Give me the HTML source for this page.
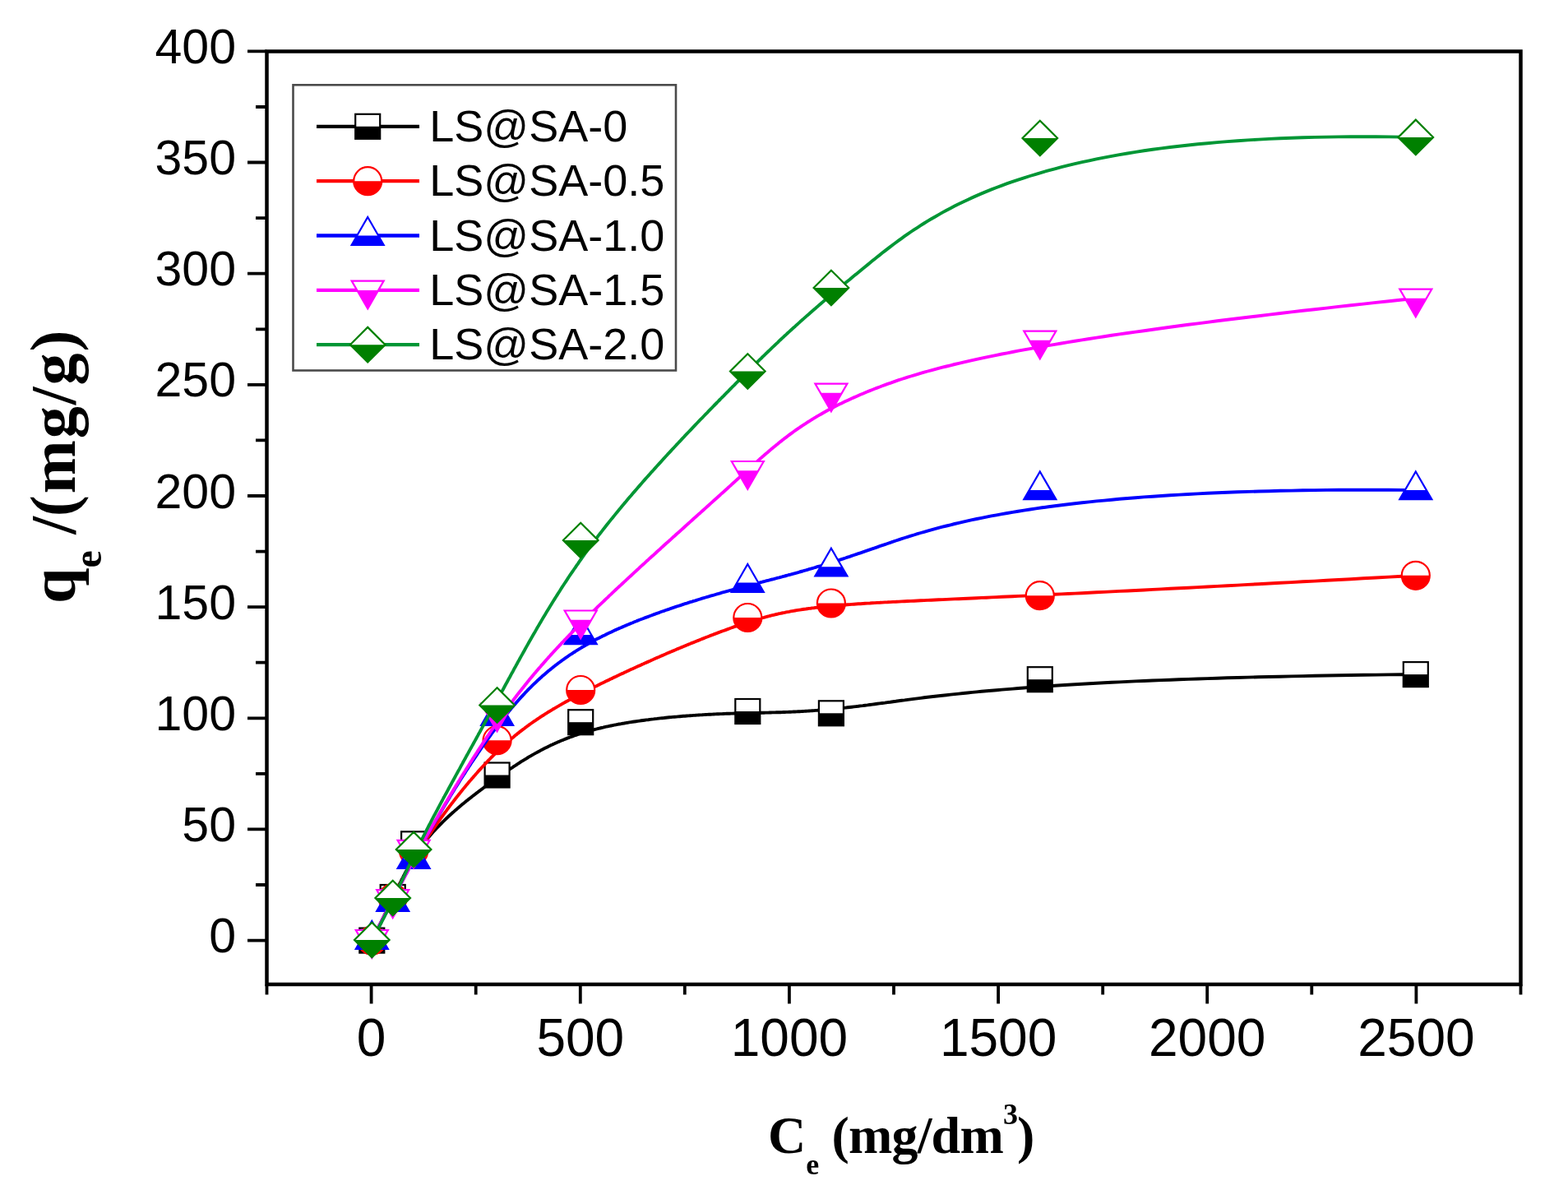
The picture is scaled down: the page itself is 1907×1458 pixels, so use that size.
<!DOCTYPE html>
<html><head><meta charset="utf-8"><title>qe vs Ce</title>
<style>html,body{margin:0;padding:0;background:#fff;}svg{display:block;}</style>
</head><body>
<svg width="1907" height="1458" viewBox="0 0 1907 1458">
<rect width="1907" height="1458" fill="#fff"/>
<polyline points="452.3,1143.6 453.2,1141.9 454.1,1140.2 455,1138.4 455.9,1136.8 456.7,1135.1 457.6,1133.4 458.4,1131.7 459.3,1130.1 460.1,1128.4 460.9,1126.7 461.8,1125.1 462.6,1123.5 463.4,1121.9 464.1,1120.3 464.9,1118.7 465.7,1117.1 466.5,1115.5 467.2,1113.9 468,1112.4 468.7,1110.8 469.5,1109.3 470.2,1107.8 470.9,1106.2 471.7,1104.7 472.4,1103.2 473.1,1101.7 473.8,1100.2 474.5,1098.7 475.2,1097.3 475.9,1095.8 476.6,1094.4 477.3,1092.9 478,1091.5 478.7,1090 479.3,1088.6 480,1087.2 480.7,1085.8 481.4,1084.4 482,1083 482.7,1081.6 483.4,1080.2 484.1,1078.8 484.7,1077.5 485.4,1076.1 486,1074.8 486.7,1073.4 487.4,1072.1 488,1070.8 488.7,1069.4 489.4,1068.1 490.1,1066.8 490.7,1065.5 491.4,1064.2 492.1,1062.9 492.7,1061.6 493.4,1060.3 494.1,1059.1 494.8,1057.8 495.5,1056.5 496.2,1055.3 496.9,1054 497.6,1052.8 498.3,1051.6 499,1050.3 499.7,1049.1 500.4,1047.9 501.1,1046.7 501.8,1045.5 502.6,1044.3 503.3,1043.1 504,1041.9 504.8,1040.7 505.5,1039.5 506.3,1038.3 507.1,1037.2 507.9,1036 508.6,1034.8 509.4,1033.7 510.2,1032.5 511,1031.4 511.9,1030.2 512.7,1029.1 513.5,1028 514.4,1026.8 515.2,1025.7 516.1,1024.6 516.9,1023.5 517.8,1022.4 518.7,1021.3 519.6,1020.2 520.5,1019.1 521.4,1017.9 522.3,1016.9 523.3,1015.8 524.2,1014.7 525.1,1013.6 526.1,1012.5 527,1011.5 528,1010.4 529,1009.3 530,1008.3 531,1007.2 532,1006.2 533,1005.1 534,1004.1 535,1003 536,1002 537,1001 538.1,999.9 539.1,998.9 540.2,997.9 541.2,996.9 542.3,995.8 543.4,994.8 544.4,993.8 545.5,992.8 546.6,991.8 547.7,990.8 548.8,989.8 549.9,988.8 551,987.8 552.1,986.9 553.2,985.9 554.3,984.9 555.5,983.9 556.6,982.9 557.7,982 558.9,981 560,980.1 561.1,979.1 562.3,978.1 563.4,977.2 564.6,976.2 565.8,975.3 566.9,974.3 568.1,973.4 569.3,972.5 570.4,971.5 571.6,970.6 572.8,969.7 574,968.7 575.2,967.8 576.4,966.9 577.6,966 578.8,965 580,964.1 581.2,963.2 582.3,962.3 583.6,961.4 584.8,960.5 586,959.6 587.2,958.7 588.4,957.8 589.6,956.9 590.8,956 592,955.1 593.2,954.2 594.5,953.3 595.7,952.4 596.9,951.6 598.1,950.7 599.3,949.8 600.6,948.9 601.8,948.1 603,947.2 604.2,946.3 605.5,945.5 606.7,944.6 607.9,943.7 609.1,942.9 610.3,942 611.6,941.2 612.8,940.3 614,939.5 615.2,938.6 616.5,937.8 617.7,936.9 618.9,936.1 620.2,935.2 621.4,934.4 622.6,933.6 623.9,932.8 625.1,931.9 626.4,931.1 627.6,930.3 628.9,929.5 630.1,928.7 631.4,927.8 632.6,927 633.9,926.2 635.2,925.4 636.5,924.6 637.8,923.8 639,923.1 640.3,922.3 641.6,921.5 642.9,920.7 644.2,919.9 645.5,919.2 646.9,918.4 648.2,917.6 649.5,916.9 650.9,916.1 652.2,915.4 653.5,914.7 654.9,913.9 656.3,913.2 657.7,912.4 659,911.7 660.4,911 661.8,910.3 663.2,909.6 664.6,908.9 666,908.2 667.4,907.5 668.9,906.8 670.3,906.1 671.8,905.4 673.2,904.7 674.7,904.1 676.2,903.4 677.7,902.8 679.2,902.1 680.7,901.5 682.2,900.8 683.7,900.2 685.3,899.6 686.8,898.9 688.4,898.3 690,897.7 691.5,897.1 693.1,896.5 694.8,895.9 696.4,895.3 698,894.7 699.7,894.2 701.3,893.6 703,893 704.6,892.5 706.3,891.9 708,891.4 709.8,890.9 711.5,890.3 713.3,889.8 715,889.3 716.8,888.8 718.6,888.3 720.4,887.8 722.2,887.3 724,886.8 725.9,886.4 727.7,885.9 729.6,885.5 731.5,885 733.4,884.6 735.3,884.1 737.2,883.7 739.2,883.3 741.1,882.9 743.1,882.5 745.1,882.1 747,881.7 749,881.3 751,880.9 753,880.5 755.1,880.2 757.1,879.8 759.1,879.5 761.2,879.1 763.2,878.8 765.3,878.4 767.4,878.1 769.4,877.8 771.5,877.5 773.6,877.2 775.7,876.9 777.8,876.6 779.9,876.3 782,876 784.1,875.7 786.2,875.4 788.4,875.2 790.5,874.9 792.6,874.6 794.8,874.4 796.9,874.1 799,873.9 801.2,873.6 803.3,873.4 805.4,873.2 807.5,873 809.7,872.7 811.8,872.5 814,872.3 816.1,872.1 818.2,871.9 820.4,871.7 822.5,871.6 824.6,871.4 826.8,871.2 828.9,871 831,870.8 833.1,870.7 835.2,870.5 837.3,870.4 839.4,870.2 841.5,870.1 843.6,869.9 845.7,869.8 847.8,869.6 849.8,869.5 851.9,869.4 854,869.3 856,869.1 858,869 860.1,868.9 862.1,868.8 864.1,868.7 866.1,868.6 868.1,868.5 870.1,868.4 872.1,868.3 874,868.2 876,868.1 877.9,868.1 879.9,868 881.8,867.9 883.7,867.8 885.6,867.8 887.4,867.7 889.3,867.6 891.1,867.6 893,867.5 894.8,867.5 896.6,867.4 898.4,867.4 900.2,867.3 902,867.3 903.7,867.2 905.4,867.2 907.2,867.1 908.9,867.1 910.7,867.1 912.4,867 914.1,867 915.8,866.9 917.4,866.9 919.1,866.9 920.8,866.8 922.5,866.8 924.2,866.8 925.9,866.7 927.5,866.7 929.2,866.7 930.9,866.6 932.5,866.6 934.2,866.6 935.9,866.5 937.5,866.5 939.2,866.4 940.9,866.4 942.6,866.4 944.3,866.3 946,866.3 947.6,866.2 949.4,866.2 951.1,866.1 952.8,866 954.5,866 956.3,865.9 958,865.9 959.8,865.8 961.5,865.7 963.3,865.6 965.1,865.5 967,865.5 968.8,865.4 970.6,865.3 972.5,865.2 974.3,865.1 976.2,865 978.1,864.9 980.1,864.7 982,864.6 984,864.5 985.9,864.4 987.9,864.2 989.9,864.1 992,863.9 994,863.8 996.2,863.6 998.3,863.4 1000.4,863.3 1002.6,863.1 1004.8,862.9 1007,862.7 1009.2,862.5 1011.5,862.3 1013.8,862.1 1016.1,861.8 1018.5,861.6 1020.9,861.3 1023.3,861.1 1025.7,860.8 1028.2,860.6 1030.7,860.3 1033.3,860 1035.9,859.7 1038.5,859.4 1041.2,859.1 1043.9,858.8 1046.6,858.4 1049.3,858.1 1052.1,857.7 1055,857.4 1057.9,857 1060.8,856.6 1063.8,856.2 1066.8,855.8 1069.9,855.4 1073,855 1076.2,854.6 1079.4,854.1 1082.7,853.7 1086.1,853.2 1089.5,852.8 1093,852.3 1096.6,851.8 1100.2,851.4 1103.9,850.9 1107.7,850.4 1111.6,849.9 1115.7,849.4 1119.7,848.9 1123.9,848.3 1128.1,847.8 1132.5,847.3 1137,846.8 1141.5,846.2 1146.2,845.7 1151.1,845.2 1156,844.6 1161,844.1 1166.1,843.6 1171.4,843 1176.8,842.5 1182.3,841.9 1187.9,841.4 1193.7,840.8 1199.7,840.3 1205.8,839.7 1212,839.2 1218.4,838.6 1224.9,838.1 1231.5,837.6 1238.3,837 1245.3,836.5 1252.6,835.9 1259.9,835.4 1267.3,834.9 1275,834.4 1282.8,833.8 1290.8,833.3 1298.9,832.8 1307.3,832.3 1316,831.8 1324.7,831.3 1333.6,830.8 1342.7,830.3 1352,829.8 1361.5,829.4 1371.2,828.9 1381.1,828.4 1391.3,828 1401.8,827.5 1412.3,827.1 1423.1,826.7 1434.1,826.3 1445.3,825.9 1456.7,825.5 1468.4,825.1 1480.3,824.7 1492.6,824.3 1505,824 1517.6,823.6 1530.5,823.3 1543.6,823 1557,822.7 1570.6,822.4 1584.5,822.1 1598.8,821.8 1613.2,821.5 1627.9,821.3 1642.8,821 1658,820.8 1673.5,820.6 1689.2,820.4 1705.2,820.3 1721.8,820.1" fill="none" stroke="#000000" stroke-width="3.9" stroke-linejoin="round"/>
<rect x="437.3" y="1128.6" width="30" height="30" fill="#fff" stroke="#000000" stroke-width="2.2"/><rect x="437.3" y="1143.6" width="30" height="15" fill="#000000"/>
<rect x="462.7" y="1076" width="30" height="30" fill="#fff" stroke="#000000" stroke-width="2.2"/><rect x="462.7" y="1091" width="30" height="15" fill="#000000"/>
<rect x="488.1" y="1011.3" width="30" height="30" fill="#fff" stroke="#000000" stroke-width="2.2"/><rect x="488.1" y="1026.3" width="30" height="15" fill="#000000"/>
<rect x="589.6" y="927.5" width="30" height="30" fill="#fff" stroke="#000000" stroke-width="2.2"/><rect x="589.6" y="942.5" width="30" height="15" fill="#000000"/>
<rect x="691.2" y="863.2" width="30" height="30" fill="#fff" stroke="#000000" stroke-width="2.2"/><rect x="691.2" y="878.2" width="30" height="15" fill="#000000"/>
<rect x="894.3" y="850" width="30" height="30" fill="#fff" stroke="#000000" stroke-width="2.2"/><rect x="894.3" y="865" width="30" height="15" fill="#000000"/>
<rect x="995.9" y="852.3" width="30" height="30" fill="#fff" stroke="#000000" stroke-width="2.2"/><rect x="995.9" y="867.3" width="30" height="15" fill="#000000"/>
<rect x="1249.8" y="811.2" width="30" height="30" fill="#fff" stroke="#000000" stroke-width="2.2"/><rect x="1249.8" y="826.2" width="30" height="15" fill="#000000"/>
<rect x="1706.8" y="805.1" width="30" height="30" fill="#fff" stroke="#000000" stroke-width="2.2"/><rect x="1706.8" y="820.1" width="30" height="15" fill="#000000"/>
<polyline points="452.3,1143.6 453.2,1141.8 454.1,1140 455,1138.2 455.9,1136.5 456.7,1134.8 457.6,1133 458.4,1131.3 459.3,1129.7 460.1,1128 460.9,1126.3 461.8,1124.7 462.6,1123.1 463.4,1121.5 464.1,1119.9 464.9,1118.3 465.7,1116.8 466.5,1115.2 467.2,1113.7 468,1112.1 468.7,1110.6 469.5,1109.1 470.2,1107.7 470.9,1106.2 471.7,1104.7 472.4,1103.3 473.1,1101.8 473.8,1100.4 474.5,1099 475.2,1097.6 475.9,1096.2 476.6,1094.8 477.3,1093.5 478,1092.1 478.7,1090.7 479.3,1089.4 480,1088 480.7,1086.7 481.4,1085.4 482,1084.1 482.7,1082.8 483.4,1081.5 484.1,1080.1 484.7,1078.9 485.4,1077.6 486,1076.3 486.7,1075 487.4,1073.8 488,1072.5 488.7,1071.2 489.4,1069.9 490.1,1068.7 490.7,1067.4 491.4,1066.2 492.1,1064.9 492.7,1063.7 493.4,1062.5 494.1,1061.2 494.8,1060 495.5,1058.7 496.2,1057.5 496.9,1056.2 497.6,1055 498.3,1053.8 499,1052.5 499.7,1051.3 500.4,1050 501.1,1048.8 501.8,1047.5 502.6,1046.3 503.3,1045 504,1043.8 504.8,1042.5 505.5,1041.3 506.3,1040 507.1,1038.7 507.9,1037.4 508.6,1036.2 509.4,1034.9 510.2,1033.6 511,1032.3 511.9,1031 512.7,1029.7 513.5,1028.4 514.4,1027 515.2,1025.7 516.1,1024.4 516.9,1023 517.8,1021.7 518.7,1020.3 519.6,1019 520.5,1017.6 521.4,1016.2 522.3,1014.9 523.3,1013.5 524.2,1012.1 525.1,1010.7 526.1,1009.3 527,1007.9 528,1006.5 529,1005.1 530,1003.7 531,1002.3 532,1000.9 533,999.4 534,998 535,996.6 536,995.2 537,993.7 538.1,992.3 539.1,990.9 540.2,989.4 541.2,988 542.3,986.6 543.4,985.1 544.4,983.7 545.5,982.3 546.6,980.8 547.7,979.4 548.8,977.9 549.9,976.5 551,975.1 552.1,973.6 553.2,972.2 554.3,970.8 555.5,969.3 556.6,967.9 557.7,966.5 558.9,965 560,963.6 561.1,962.2 562.3,960.8 563.4,959.4 564.6,957.9 565.8,956.5 566.9,955.1 568.1,953.7 569.3,952.3 570.4,950.9 571.6,949.5 572.8,948.2 574,946.8 575.2,945.4 576.4,944 577.6,942.7 578.8,941.3 580,940 581.2,938.6 582.3,937.3 583.6,935.9 584.8,934.6 586,933.3 587.2,932 588.4,930.7 589.6,929.4 590.8,928.1 592,926.8 593.2,925.5 594.5,924.3 595.7,923 596.9,921.7 598.1,920.5 599.3,919.3 600.6,918.1 601.8,916.9 603,915.7 604.2,914.5 605.5,913.3 606.7,912.1 607.9,910.9 609.1,909.8 610.3,908.7 611.6,907.5 612.8,906.4 614,905.3 615.2,904.2 616.5,903.1 617.7,902 618.9,900.9 620.2,899.9 621.4,898.8 622.6,897.8 623.9,896.7 625.1,895.7 626.4,894.6 627.6,893.6 628.9,892.6 630.1,891.6 631.4,890.6 632.6,889.6 633.9,888.6 635.2,887.6 636.5,886.7 637.8,885.7 639,884.7 640.3,883.8 641.6,882.8 642.9,881.9 644.2,880.9 645.5,880 646.9,879 648.2,878.1 649.5,877.2 650.9,876.3 652.2,875.4 653.5,874.5 654.9,873.6 656.3,872.7 657.7,871.7 659,870.8 660.4,870 661.8,869.1 663.2,868.2 664.6,867.3 666,866.4 667.4,865.5 668.9,864.7 670.3,863.8 671.8,862.9 673.2,862 674.7,861.2 676.2,860.3 677.7,859.4 679.2,858.6 680.7,857.7 682.2,856.8 683.7,855.9 685.3,855.1 686.8,854.2 688.4,853.3 690,852.5 691.5,851.6 693.1,850.7 694.8,849.9 696.4,849 698,848.1 699.7,847.2 701.3,846.4 703,845.5 704.6,844.6 706.3,843.7 708,842.9 709.8,842 711.5,841.1 713.3,840.2 715,839.3 716.8,838.4 718.6,837.5 720.4,836.6 722.2,835.7 724,834.8 725.9,833.9 727.7,833 729.6,832 731.5,831.1 733.4,830.2 735.3,829.3 737.2,828.3 739.2,827.4 741.1,826.4 743.1,825.5 745.1,824.6 747,823.6 749,822.7 751,821.7 753,820.8 755.1,819.8 757.1,818.9 759.1,817.9 761.2,817 763.2,816 765.3,815.1 767.4,814.1 769.4,813.2 771.5,812.2 773.6,811.3 775.7,810.3 777.8,809.4 779.9,808.4 782,807.5 784.1,806.5 786.2,805.6 788.4,804.6 790.5,803.7 792.6,802.7 794.8,801.8 796.9,800.8 799,799.9 801.2,799 803.3,798 805.4,797.1 807.5,796.2 809.7,795.3 811.8,794.3 814,793.4 816.1,792.5 818.2,791.6 820.4,790.7 822.5,789.8 824.6,788.9 826.8,788 828.9,787.1 831,786.2 833.1,785.4 835.2,784.5 837.3,783.6 839.4,782.8 841.5,781.9 843.6,781.1 845.7,780.2 847.8,779.4 849.8,778.6 851.9,777.7 854,776.9 856,776.1 858,775.3 860.1,774.5 862.1,773.7 864.1,772.9 866.1,772.2 868.1,771.4 870.1,770.6 872.1,769.9 874,769.1 876,768.4 877.9,767.7 879.9,767 881.8,766.3 883.7,765.6 885.6,764.9 887.4,764.2 889.3,763.5 891.1,762.9 893,762.2 894.8,761.6 896.6,761 898.4,760.3 900.2,759.7 902,759.1 903.7,758.5 905.4,758 907.2,757.4 908.9,756.8 910.7,756.3 912.4,755.7 914.1,755.2 915.8,754.7 917.4,754.2 919.1,753.7 920.8,753.2 922.5,752.7 924.2,752.2 925.9,751.7 927.5,751.2 929.2,750.8 930.9,750.3 932.5,749.9 934.2,749.5 935.9,749 937.5,748.6 939.2,748.2 940.9,747.8 942.6,747.4 944.3,747 946,746.6 947.6,746.2 949.4,745.9 951.1,745.5 952.8,745.1 954.5,744.8 956.3,744.4 958,744.1 959.8,743.8 961.5,743.4 963.3,743.1 965.1,742.8 967,742.5 968.8,742.2 970.6,741.9 972.5,741.6 974.3,741.3 976.2,741 978.1,740.7 980.1,740.5 982,740.2 984,739.9 985.9,739.7 987.9,739.4 989.9,739.2 992,738.9 994,738.7 996.2,738.4 998.3,738.2 1000.4,738 1002.6,737.7 1004.8,737.5 1007,737.3 1009.2,737.1 1011.5,736.9 1013.8,736.7 1016.1,736.5 1018.5,736.3 1020.9,736 1023.3,735.9 1025.7,735.7 1028.2,735.5 1030.7,735.3 1033.3,735.1 1035.9,734.9 1038.5,734.7 1041.2,734.5 1043.9,734.3 1046.6,734.2 1049.3,734 1052.1,733.8 1055,733.6 1057.9,733.5 1060.8,733.3 1063.8,733.1 1066.8,732.9 1069.9,732.8 1073,732.6 1076.2,732.4 1079.4,732.3 1082.7,732.1 1086.1,731.9 1089.5,731.8 1093,731.6 1096.6,731.4 1100.2,731.2 1103.9,731 1107.7,730.9 1111.6,730.7 1115.7,730.5 1119.7,730.3 1123.9,730.1 1128.1,729.9 1132.5,729.7 1137,729.5 1141.5,729.3 1146.2,729.1 1151.1,728.9 1156,728.6 1161,728.4 1166.1,728.2 1171.4,728 1176.8,727.7 1182.3,727.5 1187.9,727.2 1193.7,726.9 1199.7,726.7 1205.8,726.4 1212,726.1 1218.4,725.8 1224.9,725.5 1231.5,725.2 1238.3,724.9 1245.3,724.6 1252.6,724.2 1259.9,723.9 1267.3,723.5 1275,723.2 1282.8,722.8 1290.8,722.4 1298.9,722 1307.3,721.6 1316,721.2 1324.7,720.8 1333.6,720.3 1342.7,719.9 1352,719.4 1361.5,718.9 1371.2,718.5 1381.1,718 1391.3,717.5 1401.8,716.9 1412.3,716.4 1423.1,715.8 1434.1,715.3 1445.3,714.7 1456.7,714.1 1468.4,713.5 1480.3,712.9 1492.6,712.2 1505,711.6 1517.6,710.9 1530.5,710.2 1543.6,709.5 1557,708.8 1570.6,708.1 1584.5,707.3 1598.8,706.6 1613.2,705.8 1627.9,705 1642.8,704.2 1658,703.3 1673.5,702.5 1689.2,701.6 1705.2,700.7 1721.8,699.8" fill="none" stroke="#ff0000" stroke-width="3.9" stroke-linejoin="round"/>
<circle cx="452.3" cy="1143.6" r="17" fill="#fff" stroke="#ff0000" stroke-width="2.2"/><path d="M435.3 1143.6A17 17 0 0 0 469.3 1143.6Z" fill="#ff0000"/>
<circle cx="477.7" cy="1092" r="17" fill="#fff" stroke="#ff0000" stroke-width="2.2"/><path d="M460.7 1092A17 17 0 0 0 494.7 1092Z" fill="#ff0000"/>
<circle cx="503.1" cy="1035" r="17" fill="#fff" stroke="#ff0000" stroke-width="2.2"/><path d="M486.1 1035A17 17 0 0 0 520.1 1035Z" fill="#ff0000"/>
<circle cx="604.6" cy="900.2" r="17" fill="#fff" stroke="#ff0000" stroke-width="2.2"/><path d="M587.6 900.2A17 17 0 0 0 621.6 900.2Z" fill="#ff0000"/>
<circle cx="706.2" cy="839" r="17" fill="#fff" stroke="#ff0000" stroke-width="2.2"/><path d="M689.2 839A17 17 0 0 0 723.2 839Z" fill="#ff0000"/>
<circle cx="909.3" cy="751" r="17" fill="#fff" stroke="#ff0000" stroke-width="2.2"/><path d="M892.3 751A17 17 0 0 0 926.3 751Z" fill="#ff0000"/>
<circle cx="1010.9" cy="733.5" r="17" fill="#fff" stroke="#ff0000" stroke-width="2.2"/><path d="M993.9 733.5A17 17 0 0 0 1027.9 733.5Z" fill="#ff0000"/>
<circle cx="1264.8" cy="724.2" r="17" fill="#fff" stroke="#ff0000" stroke-width="2.2"/><path d="M1247.8 724.2A17 17 0 0 0 1281.8 724.2Z" fill="#ff0000"/>
<circle cx="1721.8" cy="699.8" r="17" fill="#fff" stroke="#ff0000" stroke-width="2.2"/><path d="M1704.8 699.8A17 17 0 0 0 1738.8 699.8Z" fill="#ff0000"/>
<polyline points="452.3,1142.5 453.2,1140.8 454.1,1139.1 455,1137.4 455.9,1135.7 456.7,1134.1 457.6,1132.4 458.4,1130.8 459.3,1129.2 460.1,1127.6 460.9,1126 461.8,1124.5 462.6,1122.9 463.4,1121.4 464.1,1119.9 464.9,1118.4 465.7,1116.9 466.5,1115.4 467.2,1113.9 468,1112.5 468.7,1111 469.5,1109.6 470.2,1108.2 470.9,1106.8 471.7,1105.4 472.4,1104 473.1,1102.6 473.8,1101.2 474.5,1099.9 475.2,1098.5 475.9,1097.2 476.6,1095.8 477.3,1094.5 478,1093.2 478.7,1091.8 479.3,1090.5 480,1089.2 480.7,1087.9 481.4,1086.6 482,1085.3 482.7,1084 483.4,1082.7 484.1,1081.4 484.7,1080.2 485.4,1078.9 486,1077.6 486.7,1076.3 487.4,1075.1 488,1073.8 488.7,1072.5 489.4,1071.2 490.1,1069.9 490.7,1068.7 491.4,1067.4 492.1,1066.1 492.7,1064.8 493.4,1063.6 494.1,1062.3 494.8,1061 495.5,1059.7 496.2,1058.4 496.9,1057.1 497.6,1055.8 498.3,1054.5 499,1053.2 499.7,1051.8 500.4,1050.5 501.1,1049.2 501.8,1047.8 502.6,1046.5 503.3,1045.1 504,1043.8 504.8,1042.4 505.5,1041 506.3,1039.6 507.1,1038.2 507.9,1036.8 508.6,1035.4 509.4,1034 510.2,1032.5 511,1031.1 511.9,1029.6 512.7,1028.1 513.5,1026.6 514.4,1025.1 515.2,1023.6 516.1,1022.1 516.9,1020.5 517.8,1019 518.7,1017.4 519.6,1015.8 520.5,1014.2 521.4,1012.6 522.3,1011 523.3,1009.4 524.2,1007.8 525.1,1006.1 526.1,1004.5 527,1002.8 528,1001.2 529,999.5 530,997.8 531,996.1 532,994.4 533,992.7 534,991 535,989.2 536,987.5 537,985.8 538.1,984 539.1,982.3 540.2,980.5 541.2,978.8 542.3,977 543.4,975.2 544.4,973.5 545.5,971.7 546.6,969.9 547.7,968.1 548.8,966.3 549.9,964.5 551,962.7 552.1,960.9 553.2,959.1 554.3,957.3 555.5,955.5 556.6,953.7 557.7,951.9 558.9,950.1 560,948.3 561.1,946.5 562.3,944.7 563.4,942.9 564.6,941.1 565.8,939.3 566.9,937.5 568.1,935.7 569.3,933.9 570.4,932.1 571.6,930.3 572.8,928.5 574,926.7 575.2,924.9 576.4,923.1 577.6,921.3 578.8,919.6 580,917.8 581.2,916 582.3,914.3 583.6,912.5 584.8,910.7 586,909 587.2,907.3 588.4,905.5 589.6,903.8 590.8,902.1 592,900.4 593.2,898.7 594.5,897 595.7,895.3 596.9,893.6 598.1,891.9 599.3,890.3 600.6,888.6 601.8,887 603,885.3 604.2,883.7 605.5,882.1 606.7,880.5 607.9,878.9 609.1,877.3 610.3,875.7 611.6,874.2 612.8,872.6 614,871.1 615.2,869.5 616.5,868 617.7,866.5 618.9,865 620.2,863.5 621.4,862 622.6,860.6 623.9,859.1 625.1,857.6 626.4,856.2 627.6,854.7 628.9,853.3 630.1,851.9 631.4,850.5 632.6,849.1 633.9,847.7 635.2,846.3 636.5,844.9 637.8,843.6 639,842.2 640.3,840.9 641.6,839.5 642.9,838.2 644.2,836.9 645.5,835.6 646.9,834.2 648.2,832.9 649.5,831.6 650.9,830.4 652.2,829.1 653.5,827.8 654.9,826.6 656.3,825.3 657.7,824.1 659,822.8 660.4,821.6 661.8,820.4 663.2,819.2 664.6,818 666,816.8 667.4,815.6 668.9,814.4 670.3,813.2 671.8,812.1 673.2,810.9 674.7,809.8 676.2,808.6 677.7,807.5 679.2,806.3 680.7,805.2 682.2,804.1 683.7,803 685.3,801.9 686.8,800.8 688.4,799.7 690,798.6 691.5,797.5 693.1,796.4 694.8,795.4 696.4,794.3 698,793.2 699.7,792.2 701.3,791.2 703,790.1 704.6,789.1 706.3,788.1 708,787 709.8,786 711.5,785 713.3,784 715,783 716.8,782 718.6,781 720.4,780.1 722.2,779.1 724,778.1 725.9,777.1 727.7,776.2 729.6,775.2 731.5,774.3 733.4,773.3 735.3,772.4 737.2,771.4 739.2,770.5 741.1,769.6 743.1,768.7 745.1,767.7 747,766.8 749,765.9 751,765 753,764.1 755.1,763.3 757.1,762.4 759.1,761.5 761.2,760.6 763.2,759.7 765.3,758.9 767.4,758 769.4,757.2 771.5,756.3 773.6,755.5 775.7,754.6 777.8,753.8 779.9,753 782,752.2 784.1,751.4 786.2,750.6 788.4,749.8 790.5,749 792.6,748.2 794.8,747.4 796.9,746.6 799,745.8 801.2,745.1 803.3,744.3 805.4,743.5 807.5,742.8 809.7,742 811.8,741.3 814,740.6 816.1,739.8 818.2,739.1 820.4,738.4 822.5,737.7 824.6,737 826.8,736.3 828.9,735.6 831,734.9 833.1,734.2 835.2,733.6 837.3,732.9 839.4,732.2 841.5,731.6 843.6,730.9 845.7,730.3 847.8,729.6 849.8,729 851.9,728.4 854,727.7 856,727.1 858,726.5 860.1,725.9 862.1,725.3 864.1,724.7 866.1,724.1 868.1,723.6 870.1,723 872.1,722.4 874,721.9 876,721.3 877.9,720.7 879.9,720.2 881.8,719.7 883.7,719.1 885.6,718.6 887.4,718.1 889.3,717.6 891.1,717.1 893,716.6 894.8,716.1 896.6,715.6 898.4,715.1 900.2,714.6 902,714.2 903.7,713.7 905.4,713.3 907.2,712.8 908.9,712.3 910.7,711.9 912.4,711.4 914.1,711 915.8,710.6 917.4,710.1 919.1,709.7 920.8,709.3 922.5,708.8 924.2,708.4 925.9,708 927.5,707.5 929.2,707.1 930.9,706.7 932.5,706.2 934.2,705.8 935.9,705.4 937.5,704.9 939.2,704.5 940.9,704.1 942.6,703.6 944.3,703.2 946,702.7 947.6,702.3 949.4,701.8 951.1,701.4 952.8,700.9 954.5,700.5 956.3,700 958,699.5 959.8,699 961.5,698.6 963.3,698.1 965.1,697.6 967,697.1 968.8,696.6 970.6,696.1 972.5,695.5 974.3,695 976.2,694.5 978.1,693.9 980.1,693.4 982,692.8 984,692.2 985.9,691.7 987.9,691.1 989.9,690.5 992,689.9 994,689.2 996.2,688.6 998.3,688 1000.4,687.3 1002.6,686.6 1004.8,686 1007,685.3 1009.2,684.6 1011.5,683.9 1013.8,683.1 1016.1,682.4 1018.5,681.6 1020.9,680.9 1023.3,680.1 1025.7,679.3 1028.2,678.5 1030.7,677.6 1033.3,676.8 1035.9,675.9 1038.5,675 1041.2,674.1 1043.9,673.2 1046.6,672.3 1049.3,671.4 1052.1,670.4 1055,669.4 1057.9,668.4 1060.8,667.4 1063.8,666.4 1066.8,665.3 1069.9,664.2 1073,663.2 1076.2,662.1 1079.4,661 1082.7,659.8 1086.1,658.7 1089.5,657.5 1093,656.4 1096.6,655.2 1100.2,654 1103.9,652.9 1107.7,651.7 1111.6,650.5 1115.7,649.2 1119.7,648 1123.9,646.8 1128.1,645.6 1132.5,644.4 1137,643.2 1141.5,641.9 1146.2,640.7 1151.1,639.5 1156,638.3 1161,637 1166.1,635.8 1171.4,634.6 1176.8,633.4 1182.3,632.2 1187.9,631 1193.7,629.8 1199.7,628.6 1205.8,627.4 1212,626.3 1218.4,625.1 1224.9,624 1231.5,622.8 1238.3,621.7 1245.3,620.6 1252.6,619.5 1259.9,618.4 1267.3,617.3 1275,616.3 1282.8,615.3 1290.8,614.2 1298.9,613.2 1307.3,612.3 1316,611.3 1324.7,610.4 1333.6,609.4 1342.7,608.6 1352,607.7 1361.5,606.8 1371.2,606 1381.1,605.2 1391.3,604.4 1401.8,603.7 1412.3,603 1423.1,602.3 1434.1,601.6 1445.3,601 1456.7,600.4 1468.4,599.8 1480.3,599.3 1492.6,598.8 1505,598.3 1517.6,597.9 1530.5,597.5 1543.6,597.2 1557,596.8 1570.6,596.6 1584.5,596.3 1598.8,596.1 1613.2,595.9 1627.9,595.8 1642.8,595.7 1658,595.7 1673.5,595.7 1689.2,595.8 1705.2,595.9 1721.8,596" fill="none" stroke="#0000ff" stroke-width="3.9" stroke-linejoin="round"/>
<path d="M452.3 1120L471.8 1153.8L432.8 1153.8Z" fill="#fff" stroke="#0000ff" stroke-width="2.2"/><path d="M439.3 1142.5L465.3 1142.5L471.8 1153.8L432.8 1153.8Z" fill="#0000ff"/>
<path d="M477.7 1074.1L497.2 1107.8L458.2 1107.8Z" fill="#fff" stroke="#0000ff" stroke-width="2.2"/><path d="M464.7 1096.6L490.7 1096.6L497.2 1107.8L458.2 1107.8Z" fill="#0000ff"/>
<path d="M503.1 1022.3L522.6 1056L483.6 1056Z" fill="#fff" stroke="#0000ff" stroke-width="2.2"/><path d="M490.1 1044.8L516.1 1044.8L522.6 1056L483.6 1056Z" fill="#0000ff"/>
<path d="M604.6 848.3L624.1 882L585.2 882Z" fill="#fff" stroke="#0000ff" stroke-width="2.2"/><path d="M591.6 870.8L617.6 870.8L624.1 882L585.2 882Z" fill="#0000ff"/>
<path d="M706.2 749.5L725.7 783.2L686.7 783.2Z" fill="#fff" stroke="#0000ff" stroke-width="2.2"/><path d="M693.2 772L719.2 772L725.7 783.2L686.7 783.2Z" fill="#0000ff"/>
<path d="M909.3 686L928.8 719.8L889.8 719.8Z" fill="#fff" stroke="#0000ff" stroke-width="2.2"/><path d="M896.3 708.5L922.3 708.5L928.8 719.8L889.8 719.8Z" fill="#0000ff"/>
<path d="M1010.9 666.8L1030.4 700.5L991.4 700.5Z" fill="#fff" stroke="#0000ff" stroke-width="2.2"/><path d="M997.9 689.3L1023.9 689.3L1030.4 700.5L991.4 700.5Z" fill="#0000ff"/>
<path d="M1264.8 573.5L1284.3 607.2L1245.3 607.2Z" fill="#fff" stroke="#0000ff" stroke-width="2.2"/><path d="M1251.8 596L1277.8 596L1284.3 607.2L1245.3 607.2Z" fill="#0000ff"/>
<path d="M1721.8 573.5L1741.3 607.2L1702.3 607.2Z" fill="#fff" stroke="#0000ff" stroke-width="2.2"/><path d="M1708.8 596L1734.8 596L1741.3 607.2L1702.3 607.2Z" fill="#0000ff"/>
<polyline points="452.3,1142.3 453.2,1140.6 454.1,1138.9 455,1137.3 455.9,1135.6 456.7,1134 457.6,1132.4 458.4,1130.8 459.3,1129.2 460.1,1127.6 460.9,1126 461.8,1124.5 462.6,1123 463.4,1121.4 464.1,1119.9 464.9,1118.5 465.7,1117 466.5,1115.5 467.2,1114 468,1112.6 468.7,1111.2 469.5,1109.8 470.2,1108.3 470.9,1106.9 471.7,1105.6 472.4,1104.2 473.1,1102.8 473.8,1101.4 474.5,1100.1 475.2,1098.7 475.9,1097.4 476.6,1096 477.3,1094.7 478,1093.4 478.7,1092 479.3,1090.7 480,1089.4 480.7,1088.1 481.4,1086.8 482,1085.5 482.7,1084.2 483.4,1082.9 484.1,1081.6 484.7,1080.4 485.4,1079.1 486,1077.8 486.7,1076.5 487.4,1075.2 488,1073.9 488.7,1072.7 489.4,1071.4 490.1,1070.1 490.7,1068.8 491.4,1067.5 492.1,1066.2 492.7,1065 493.4,1063.7 494.1,1062.4 494.8,1061.1 495.5,1059.7 496.2,1058.4 496.9,1057.1 497.6,1055.8 498.3,1054.5 499,1053.2 499.7,1051.8 500.4,1050.5 501.1,1049.1 501.8,1047.8 502.6,1046.4 503.3,1045.1 504,1043.7 504.8,1042.3 505.5,1040.9 506.3,1039.5 507.1,1038.1 507.9,1036.6 508.6,1035.2 509.4,1033.8 510.2,1032.3 511,1030.8 511.9,1029.3 512.7,1027.9 513.5,1026.3 514.4,1024.8 515.2,1023.3 516.1,1021.7 516.9,1020.2 517.8,1018.6 518.7,1017 519.6,1015.4 520.5,1013.8 521.4,1012.2 522.3,1010.5 523.3,1008.9 524.2,1007.3 525.1,1005.6 526.1,1003.9 527,1002.3 528,1000.6 529,998.8 530,997.1 531,995.4 532,993.7 533,992 534,990.2 535,988.5 536,986.7 537,985 538.1,983.2 539.1,981.4 540.2,979.6 541.2,977.8 542.3,976 543.4,974.2 544.4,972.4 545.5,970.6 546.6,968.7 547.7,966.9 548.8,965.1 549.9,963.3 551,961.4 552.1,959.6 553.2,957.8 554.3,955.9 555.5,954 556.6,952.2 557.7,950.3 558.9,948.5 560,946.6 561.1,944.8 562.3,942.9 563.4,941 564.6,939.2 565.8,937.3 566.9,935.4 568.1,933.6 569.3,931.7 570.4,929.9 571.6,928 572.8,926.1 574,924.3 575.2,922.4 576.4,920.5 577.6,918.7 578.8,916.8 580,915 581.2,913.1 582.3,911.3 583.6,909.5 584.8,907.6 586,905.8 587.2,903.9 588.4,902.1 589.6,900.3 590.8,898.5 592,896.7 593.2,894.9 594.5,893.1 595.7,891.2 596.9,889.5 598.1,887.7 599.3,885.9 600.6,884.1 601.8,882.4 603,880.6 604.2,878.9 605.5,877.1 606.7,875.4 607.9,873.7 609.1,872 610.3,870.3 611.6,868.6 612.8,866.9 614,865.2 615.2,863.5 616.5,861.8 617.7,860.1 618.9,858.5 620.2,856.8 621.4,855.2 622.6,853.5 623.9,851.9 625.1,850.2 626.4,848.6 627.6,847 628.9,845.3 630.1,843.7 631.4,842.1 632.6,840.5 633.9,838.9 635.2,837.3 636.5,835.7 637.8,834.1 639,832.5 640.3,830.9 641.6,829.3 642.9,827.7 644.2,826.1 645.5,824.5 646.9,822.9 648.2,821.3 649.5,819.7 650.9,818.2 652.2,816.6 653.5,815 654.9,813.4 656.3,811.8 657.7,810.2 659,808.6 660.4,807.1 661.8,805.5 663.2,803.9 664.6,802.3 666,800.7 667.4,799.1 668.9,797.5 670.3,795.9 671.8,794.3 673.2,792.7 674.7,791.1 676.2,789.5 677.7,787.9 679.2,786.3 680.7,784.7 682.2,783.1 683.7,781.4 685.3,779.8 686.8,778.2 688.4,776.6 690,774.9 691.5,773.3 693.1,771.6 694.8,770 696.4,768.3 698,766.6 699.7,765 701.3,763.3 703,761.6 704.6,759.9 706.3,758.2 708,756.5 709.8,754.8 711.5,753.1 713.3,751.3 715,749.6 716.8,747.9 718.6,746.1 720.4,744.4 722.2,742.6 724,740.8 725.9,739 727.7,737.2 729.6,735.4 731.5,733.6 733.4,731.8 735.3,730 737.2,728.2 739.2,726.3 741.1,724.4 743.1,722.6 745.1,720.7 747,718.9 749,717 751,715.1 753,713.3 755.1,711.4 757.1,709.5 759.1,707.6 761.2,705.7 763.2,703.8 765.3,701.9 767.4,700 769.4,698.1 771.5,696.1 773.6,694.2 775.7,692.3 777.8,690.3 779.9,688.4 782,686.5 784.1,684.6 786.2,682.6 788.4,680.7 790.5,678.7 792.6,676.8 794.8,674.9 796.9,673 799,671 801.2,669.1 803.3,667.2 805.4,665.2 807.5,663.3 809.7,661.3 811.8,659.4 814,657.5 816.1,655.6 818.2,653.6 820.4,651.7 822.5,649.8 824.6,647.9 826.8,646 828.9,644.1 831,642.2 833.1,640.3 835.2,638.4 837.3,636.5 839.4,634.6 841.5,632.7 843.6,630.8 845.7,628.9 847.8,627.1 849.8,625.2 851.9,623.4 854,621.5 856,619.7 858,617.9 860.1,616 862.1,614.2 864.1,612.4 866.1,610.6 868.1,608.8 870.1,607 872.1,605.2 874,603.5 876,601.7 877.9,599.9 879.9,598.2 881.8,596.5 883.7,594.8 885.6,593 887.4,591.4 889.3,589.7 891.1,588 893,586.3 894.8,584.6 896.6,583 898.4,581.4 900.2,579.8 902,578.2 903.7,576.6 905.4,575 907.2,573.4 908.9,571.8 910.7,570.2 912.4,568.7 914.1,567.2 915.8,565.6 917.4,564.1 919.1,562.6 920.8,561.1 922.5,559.6 924.2,558.1 925.9,556.7 927.5,555.2 929.2,553.8 930.9,552.3 932.5,550.9 934.2,549.5 935.9,548 937.5,546.6 939.2,545.2 940.9,543.8 942.6,542.4 944.3,541 946,539.7 947.6,538.3 949.4,536.9 951.1,535.6 952.8,534.2 954.5,532.9 956.3,531.6 958,530.3 959.8,528.9 961.5,527.6 963.3,526.3 965.1,525 967,523.7 968.8,522.4 970.6,521.1 972.5,519.9 974.3,518.6 976.2,517.3 978.1,516.1 980.1,514.8 982,513.5 984,512.3 985.9,511.1 987.9,509.8 989.9,508.6 992,507.4 994,506.1 996.2,504.9 998.3,503.7 1000.4,502.5 1002.6,501.2 1004.8,500 1007,498.8 1009.2,497.6 1011.5,496.4 1013.8,495.2 1016.1,494 1018.5,492.8 1020.9,491.6 1023.3,490.5 1025.7,489.3 1028.2,488.1 1030.7,486.9 1033.3,485.7 1035.9,484.5 1038.5,483.4 1041.2,482.2 1043.9,481 1046.6,479.8 1049.3,478.7 1052.1,477.5 1055,476.3 1057.9,475.1 1060.8,474 1063.8,472.8 1066.8,471.6 1069.9,470.5 1073,469.3 1076.2,468.1 1079.4,466.9 1082.7,465.8 1086.1,464.6 1089.5,463.4 1093,462.2 1096.6,461 1100.2,459.9 1103.9,458.7 1107.7,457.5 1111.6,456.3 1115.7,455.1 1119.7,453.9 1123.9,452.7 1128.1,451.5 1132.5,450.3 1137,449.1 1141.5,447.9 1146.2,446.7 1151.1,445.5 1156,444.3 1161,443 1166.1,441.8 1171.4,440.6 1176.8,439.3 1182.3,438.1 1187.9,436.9 1193.7,435.6 1199.7,434.3 1205.8,433.1 1212,431.8 1218.4,430.5 1224.9,429.3 1231.5,428 1238.3,426.7 1245.3,425.4 1252.6,424.1 1259.9,422.8 1267.3,421.4 1275,420.1 1282.8,418.8 1290.8,417.5 1298.9,416.1 1307.3,414.8 1316,413.4 1324.7,412 1333.6,410.6 1342.7,409.2 1352,407.8 1361.5,406.4 1371.2,405 1381.1,403.6 1391.3,402.2 1401.8,400.7 1412.3,399.3 1423.1,397.8 1434.1,396.3 1445.3,394.8 1456.7,393.4 1468.4,391.9 1480.3,390.3 1492.6,388.8 1505,387.3 1517.6,385.7 1530.5,384.2 1543.6,382.6 1557,381 1570.6,379.4 1584.5,377.8 1598.8,376.2 1613.2,374.6 1627.9,372.9 1642.8,371.3 1658,369.6 1673.5,367.9 1689.2,366.2 1705.2,364.5 1721.8,362.8" fill="none" stroke="#ff00ff" stroke-width="3.9" stroke-linejoin="round"/>
<path d="M452.3 1164.8L471.8 1131L432.8 1131Z" fill="#fff" stroke="#ff00ff" stroke-width="2.2"/><path d="M439.3 1142.3L465.3 1142.3L452.3 1164.8Z" fill="#ff00ff"/>
<path d="M477.7 1116L497.2 1082.2L458.2 1082.2Z" fill="#fff" stroke="#ff00ff" stroke-width="2.2"/><path d="M464.7 1093.5L490.7 1093.5L477.7 1116Z" fill="#ff00ff"/>
<path d="M503.1 1055.5L522.6 1021.8L483.6 1021.8Z" fill="#fff" stroke="#ff00ff" stroke-width="2.2"/><path d="M490.1 1033L516.1 1033L503.1 1055.5Z" fill="#ff00ff"/>
<path d="M604.6 889.3L624.1 855.5L585.2 855.5Z" fill="#fff" stroke="#ff00ff" stroke-width="2.2"/><path d="M591.6 866.8L617.6 866.8L604.6 889.3Z" fill="#ff00ff"/>
<path d="M706.2 776.3L725.7 742.5L686.7 742.5Z" fill="#fff" stroke="#ff00ff" stroke-width="2.2"/><path d="M693.2 753.8L719.2 753.8L706.2 776.3Z" fill="#ff00ff"/>
<path d="M909.3 594.7L928.8 561L889.8 561Z" fill="#fff" stroke="#ff00ff" stroke-width="2.2"/><path d="M896.3 572.2L922.3 572.2L909.3 594.7Z" fill="#ff00ff"/>
<path d="M1010.9 500.3L1030.4 466.6L991.4 466.6Z" fill="#fff" stroke="#ff00ff" stroke-width="2.2"/><path d="M997.9 477.8L1023.9 477.8L1010.9 500.3Z" fill="#ff00ff"/>
<path d="M1264.8 436.3L1284.3 402.6L1245.3 402.6Z" fill="#fff" stroke="#ff00ff" stroke-width="2.2"/><path d="M1251.8 413.8L1277.8 413.8L1264.8 436.3Z" fill="#ff00ff"/>
<path d="M1721.8 385.3L1741.3 351.6L1702.3 351.6Z" fill="#fff" stroke="#ff00ff" stroke-width="2.2"/><path d="M1708.8 362.8L1734.8 362.8L1721.8 385.3Z" fill="#ff00ff"/>
<polyline points="452.3,1143 453.2,1141.4 454.1,1139.8 455,1138.2 455.9,1136.6 456.7,1135 457.6,1133.5 458.4,1131.9 459.3,1130.3 460.1,1128.8 460.9,1127.3 461.8,1125.7 462.6,1124.2 463.4,1122.7 464.1,1121.2 464.9,1119.7 465.7,1118.2 466.5,1116.7 467.2,1115.3 468,1113.8 468.7,1112.3 469.5,1110.9 470.2,1109.4 470.9,1108 471.7,1106.5 472.4,1105.1 473.1,1103.7 473.8,1102.2 474.5,1100.8 475.2,1099.4 475.9,1098 476.6,1096.6 477.3,1095.1 478,1093.7 478.7,1092.3 479.3,1090.9 480,1089.5 480.7,1088.1 481.4,1086.7 482,1085.3 482.7,1083.9 483.4,1082.5 484.1,1081.1 484.7,1079.7 485.4,1078.2 486,1076.8 486.7,1075.4 487.4,1074 488,1072.6 488.7,1071.2 489.4,1069.8 490.1,1068.4 490.7,1066.9 491.4,1065.5 492.1,1064.1 492.7,1062.7 493.4,1061.2 494.1,1059.8 494.8,1058.3 495.5,1056.9 496.2,1055.4 496.9,1053.9 497.6,1052.5 498.3,1051 499,1049.5 499.7,1048 500.4,1046.6 501.1,1045 501.8,1043.5 502.6,1042 503.3,1040.5 504,1039 504.8,1037.4 505.5,1035.9 506.3,1034.3 507.1,1032.7 507.9,1031.2 508.6,1029.6 509.4,1028 510.2,1026.4 511,1024.7 511.9,1023.1 512.7,1021.5 513.5,1019.8 514.4,1018.1 515.2,1016.5 516.1,1014.8 516.9,1013.1 517.8,1011.4 518.7,1009.7 519.6,1007.9 520.5,1006.2 521.4,1004.4 522.3,1002.6 523.3,1000.9 524.2,999.1 525.1,997.3 526.1,995.5 527,993.7 528,991.8 529,990 530,988.1 531,986.3 532,984.4 533,982.5 534,980.6 535,978.7 536,976.8 537,974.9 538.1,973 539.1,971 540.2,969.1 541.2,967.2 542.3,965.2 543.4,963.2 544.4,961.3 545.5,959.3 546.6,957.3 547.7,955.3 548.8,953.3 549.9,951.2 551,949.2 552.1,947.2 553.2,945.2 554.3,943.1 555.5,941 556.6,939 557.7,936.9 558.9,934.9 560,932.8 561.1,930.7 562.3,928.6 563.4,926.5 564.6,924.4 565.8,922.3 566.9,920.2 568.1,918 569.3,915.9 570.4,913.8 571.6,911.6 572.8,909.5 574,907.4 575.2,905.2 576.4,903 577.6,900.9 578.8,898.7 580,896.5 581.2,894.4 582.3,892.2 583.6,890 584.8,887.8 586,885.6 587.2,883.4 588.4,881.2 589.6,879 590.8,876.8 592,874.6 593.2,872.4 594.5,870.1 595.7,867.9 596.9,865.7 598.1,863.4 599.3,861.2 600.6,859 601.8,856.8 603,854.5 604.2,852.3 605.5,850 606.7,847.8 607.9,845.5 609.1,843.3 610.3,841 611.6,838.8 612.8,836.5 614,834.3 615.2,832 616.5,829.7 617.7,827.5 618.9,825.2 620.2,823 621.4,820.7 622.6,818.4 623.9,816.2 625.1,813.8 626.4,811.6 627.6,809.3 628.9,807 630.1,804.7 631.4,802.5 632.6,800.2 633.9,797.9 635.2,795.6 636.5,793.3 637.8,791 639,788.7 640.3,786.4 641.6,784.1 642.9,781.8 644.2,779.5 645.5,777.2 646.9,774.8 648.2,772.5 649.5,770.2 650.9,767.9 652.2,765.6 653.5,763.2 654.9,760.9 656.3,758.6 657.7,756.2 659,753.9 660.4,751.6 661.8,749.2 663.2,746.9 664.6,744.6 666,742.2 667.4,739.9 668.9,737.5 670.3,735.2 671.8,732.8 673.2,730.5 674.7,728.1 676.2,725.8 677.7,723.4 679.2,721 680.7,718.7 682.2,716.3 683.7,713.9 685.3,711.5 686.8,709.2 688.4,706.8 690,704.4 691.5,702 693.1,699.7 694.8,697.2 696.4,694.8 698,692.5 699.7,690.1 701.3,687.7 703,685.3 704.6,682.9 706.3,680.5 708,678.1 709.8,675.6 711.5,673.2 713.3,670.8 715,668.4 716.8,666 718.6,663.6 720.4,661.2 722.2,658.7 724,656.3 725.9,653.9 727.7,651.4 729.6,649 731.5,646.6 733.4,644.1 735.3,641.7 737.2,639.3 739.2,636.8 741.1,634.4 743.1,631.9 745.1,629.5 747,627.1 749,624.6 751,622.2 753,619.7 755.1,617.3 757.1,614.8 759.1,612.4 761.2,610 763.2,607.6 765.3,605.1 767.4,602.7 769.4,600.3 771.5,597.9 773.6,595.4 775.7,593 777.8,590.6 779.9,588.2 782,585.8 784.1,583.4 786.2,581 788.4,578.6 790.5,576.2 792.6,573.8 794.8,571.5 796.9,569.1 799,566.8 801.2,564.4 803.3,562.1 805.4,559.7 807.5,557.4 809.7,555 811.8,552.7 814,550.4 816.1,548.1 818.2,545.8 820.4,543.5 822.5,541.2 824.6,539 826.8,536.7 828.9,534.4 831,532.2 833.1,529.9 835.2,527.7 837.3,525.5 839.4,523.3 841.5,521.1 843.6,518.9 845.7,516.7 847.8,514.5 849.8,512.4 851.9,510.2 854,508.1 856,506 858,503.9 860.1,501.8 862.1,499.7 864.1,497.6 866.1,495.6 868.1,493.5 870.1,491.5 872.1,489.5 874,487.5 876,485.5 877.9,483.5 879.9,481.6 881.8,479.6 883.7,477.7 885.6,475.8 887.4,473.9 889.3,472 891.1,470.1 893,468.3 894.8,466.4 896.6,464.6 898.4,462.8 900.2,461 902,459.3 903.7,457.5 905.4,455.8 907.2,454 908.9,452.3 910.7,450.6 912.4,448.9 914.1,447.2 915.8,445.5 917.4,443.8 919.1,442.2 920.8,440.5 922.5,438.8 924.2,437.2 925.9,435.6 927.5,433.9 929.2,432.3 930.9,430.7 932.5,429.1 934.2,427.5 935.9,425.9 937.5,424.3 939.2,422.7 940.9,421.1 942.6,419.5 944.3,417.9 946,416.3 947.6,414.7 949.4,413 951.1,411.4 952.8,409.8 954.5,408.2 956.3,406.6 958,405 959.8,403.4 961.5,401.8 963.3,400.2 965.1,398.5 967,396.9 968.8,395.2 970.6,393.6 972.5,391.9 974.3,390.2 976.2,388.6 978.1,386.9 980.1,385.1 982,383.4 984,381.7 985.9,380 987.9,378.2 989.9,376.5 992,374.7 994,372.9 996.2,371.1 998.3,369.3 1000.4,367.4 1002.6,365.6 1004.8,363.7 1007,361.9 1009.2,360 1011.5,358 1013.8,356.1 1016.1,354.1 1018.5,352.1 1020.9,350.2 1023.3,348.1 1025.7,346.1 1028.2,344 1030.7,342 1033.3,339.9 1035.9,337.7 1038.5,335.5 1041.2,333.4 1043.9,331.2 1046.6,328.9 1049.3,326.7 1052.1,324.4 1055,322.1 1057.9,319.7 1060.8,317.3 1063.8,314.9 1066.8,312.5 1069.9,310.1 1073,307.6 1076.2,305.1 1079.4,302.6 1082.7,300.1 1086.1,297.5 1089.5,295 1093,292.4 1096.6,289.8 1100.2,287.2 1103.9,284.6 1107.7,282 1111.6,279.4 1115.7,276.8 1119.7,274.2 1123.9,271.5 1128.1,268.9 1132.5,266.3 1137,263.7 1141.5,261.1 1146.2,258.4 1151.1,255.8 1156,253.2 1161,250.6 1166.1,248 1171.4,245.5 1176.8,242.9 1182.3,240.4 1187.9,237.9 1193.7,235.4 1199.7,232.9 1205.8,230.4 1212,228 1218.4,225.6 1224.9,223.2 1231.5,220.9 1238.3,218.6 1245.3,216.3 1252.6,214 1259.9,211.8 1267.3,209.6 1275,207.4 1282.8,205.3 1290.8,203.2 1298.9,201.2 1307.3,199.2 1316,197.2 1324.7,195.3 1333.6,193.4 1342.7,191.6 1352,189.9 1361.5,188.2 1371.2,186.5 1381.1,184.9 1391.3,183.3 1401.8,181.8 1412.3,180.4 1423.1,179 1434.1,177.7 1445.3,176.5 1456.7,175.3 1468.4,174.2 1480.3,173.1 1492.6,172.1 1505,171.2 1517.6,170.4 1530.5,169.6 1543.6,168.9 1557,168.3 1570.6,167.7 1584.5,167.3 1598.8,166.9 1613.2,166.6 1627.9,166.4 1642.8,166.2 1658,166.2 1673.5,166.2 1689.2,166.4 1705.2,166.6 1721.8,166.9" fill="none" stroke="#009635" stroke-width="3.9" stroke-linejoin="round"/>
<path d="M452.3 1121.7L473.6 1143L452.3 1164.3L431 1143Z" fill="#fff" stroke="#008000" stroke-width="2.2"/><path d="M431 1143L473.6 1143L452.3 1164.3Z" fill="#008000"/>
<path d="M477.7 1070.7L499 1092L477.7 1113.3L456.4 1092Z" fill="#fff" stroke="#008000" stroke-width="2.2"/><path d="M456.4 1092L499 1092L477.7 1113.3Z" fill="#008000"/>
<path d="M503.1 1011.7L524.4 1033L503.1 1054.3L481.8 1033Z" fill="#fff" stroke="#008000" stroke-width="2.2"/><path d="M481.8 1033L524.4 1033L503.1 1054.3Z" fill="#008000"/>
<path d="M604.6 836.2L625.9 857.5L604.6 878.8L583.3 857.5Z" fill="#fff" stroke="#008000" stroke-width="2.2"/><path d="M583.3 857.5L625.9 857.5L604.6 878.8Z" fill="#008000"/>
<path d="M706.2 635.7L727.5 657L706.2 678.3L684.9 657Z" fill="#fff" stroke="#008000" stroke-width="2.2"/><path d="M684.9 657L727.5 657L706.2 678.3Z" fill="#008000"/>
<path d="M909.3 430.2L930.6 451.5L909.3 472.8L888 451.5Z" fill="#fff" stroke="#008000" stroke-width="2.2"/><path d="M888 451.5L930.6 451.5L909.3 472.8Z" fill="#008000"/>
<path d="M1010.9 328.7L1032.2 350L1010.9 371.3L989.6 350Z" fill="#fff" stroke="#008000" stroke-width="2.2"/><path d="M989.6 350L1032.2 350L1010.9 371.3Z" fill="#008000"/>
<path d="M1264.8 146.7L1286.1 168L1264.8 189.3L1243.5 168Z" fill="#fff" stroke="#008000" stroke-width="2.2"/><path d="M1243.5 168L1286.1 168L1264.8 189.3Z" fill="#008000"/>
<path d="M1721.8 145.6L1743.1 166.9L1721.8 188.2L1700.5 166.9Z" fill="#fff" stroke="#008000" stroke-width="2.2"/><path d="M1700.5 166.9L1743.1 166.9L1721.8 188.2Z" fill="#008000"/>
<rect x="324.5" y="62.5" width="1525.0" height="1134.5" fill="none" stroke="#000" stroke-width="4.5"/>
<path d="M301 1143.6H324.5M311 1076H324.5M301 1008.4H324.5M311 940.9H324.5M301 873.3H324.5M311 805.7H324.5M301 738.1H324.5M311 670.6H324.5M301 603H324.5M311 535.4H324.5M301 467.8H324.5M311 400.3H324.5M301 332.7H324.5M311 265.1H324.5M301 197.5H324.5M311 130H324.5M301 62.4H324.5M324.5 1197.0V1209.5M451.6 1197.0V1220.5M578.7 1197.0V1209.5M705.8 1197.0V1220.5M832.8 1197.0V1209.5M959.9 1197.0V1220.5M1087 1197.0V1209.5M1214.1 1197.0V1220.5M1341.2 1197.0V1209.5M1468.2 1197.0V1220.5M1595.3 1197.0V1209.5M1722.4 1197.0V1220.5M1849.5 1197.0V1209.5" stroke="#000" stroke-width="3.8" fill="none"/>
<g font-family="Liberation Sans, Arial, sans-serif" font-size="59" text-anchor="end" fill="#000">
<text x="287" y="1158.2">0</text>
<text x="287" y="1023">50</text>
<text x="287" y="887.9">100</text>
<text x="287" y="752.7">150</text>
<text x="287" y="617.6">200</text>
<text x="287" y="482.4">250</text>
<text x="287" y="347.3">300</text>
<text x="287" y="212.1">350</text>
<text x="287" y="77">400</text>
</g>
<g font-family="Liberation Sans, Arial, sans-serif" font-size="64" text-anchor="middle" fill="#000">
<text x="451.6" y="1283.5">0</text>
<text x="705.8" y="1283.5">500</text>
<text x="959.9" y="1283.5">1000</text>
<text x="1214.1" y="1283.5">1500</text>
<text x="1468.2" y="1283.5">2000</text>
<text x="1722.4" y="1283.5">2500</text>
</g>
<text x="934" y="1402.3" font-family="Liberation Serif, Times New Roman, serif" font-weight="bold" font-size="64" fill="#000">C<tspan font-size="36" dy="25.5">e</tspan><tspan dy="-25.5" letter-spacing="-0.8"> (mg/dm</tspan><tspan font-size="36" dy="-35">3</tspan><tspan dy="35" dx="-1">)</tspan></text>
<text transform="translate(90.5,734) rotate(-90)" font-family="Liberation Serif, Times New Roman, serif" font-weight="bold" font-size="78" fill="#000">q<tspan font-size="48" dy="32">e</tspan><tspan dy="-32"> /</tspan><tspan letter-spacing="2">(mg/g)</tspan></text>
<rect x="356.5" y="103.3" width="465.5" height="347.2" fill="#fff" stroke="#4a4a4a" stroke-width="2.6"/>
<path d="M385 153.8H510" stroke="#000000" stroke-width="4.3"/>
<rect x="432.2" y="138.8" width="30" height="30" fill="#fff" stroke="#000000" stroke-width="2.2"/><rect x="432.2" y="153.8" width="30" height="15" fill="#000000"/>
<text x="522.3" y="172" font-family="Liberation Sans, Arial, sans-serif" font-size="54" fill="#000">LS@SA-0</text>
<path d="M385 220.2H510" stroke="#ff0000" stroke-width="4.3"/>
<circle cx="447.2" cy="220.2" r="17" fill="#fff" stroke="#ff0000" stroke-width="2.2"/><path d="M430.2 220.2A17 17 0 0 0 464.2 220.2Z" fill="#ff0000"/>
<text x="522.3" y="238.3" font-family="Liberation Sans, Arial, sans-serif" font-size="54" fill="#000">LS@SA-0.5</text>
<path d="M385 286.5H510" stroke="#0000ff" stroke-width="4.3"/>
<path d="M447.2 264L466.7 297.8L427.7 297.8Z" fill="#fff" stroke="#0000ff" stroke-width="2.2"/><path d="M434.2 286.5L460.2 286.5L466.7 297.8L427.7 297.8Z" fill="#0000ff"/>
<text x="522.3" y="304.7" font-family="Liberation Sans, Arial, sans-serif" font-size="54" fill="#000">LS@SA-1.0</text>
<path d="M385 352.9H510" stroke="#ff00ff" stroke-width="4.3"/>
<path d="M447.2 375.4L466.7 341.6L427.7 341.6Z" fill="#fff" stroke="#ff00ff" stroke-width="2.2"/><path d="M434.2 352.9L460.2 352.9L447.2 375.4Z" fill="#ff00ff"/>
<text x="522.3" y="371" font-family="Liberation Sans, Arial, sans-serif" font-size="54" fill="#000">LS@SA-1.5</text>
<path d="M385 419.2H510" stroke="#009635" stroke-width="4.3"/>
<path d="M447.2 397.9L468.5 419.2L447.2 440.5L425.9 419.2Z" fill="#fff" stroke="#008000" stroke-width="2.2"/><path d="M425.9 419.2L468.5 419.2L447.2 440.5Z" fill="#008000"/>
<text x="522.3" y="437.4" font-family="Liberation Sans, Arial, sans-serif" font-size="54" fill="#000">LS@SA-2.0</text>
</svg>
</body></html>
